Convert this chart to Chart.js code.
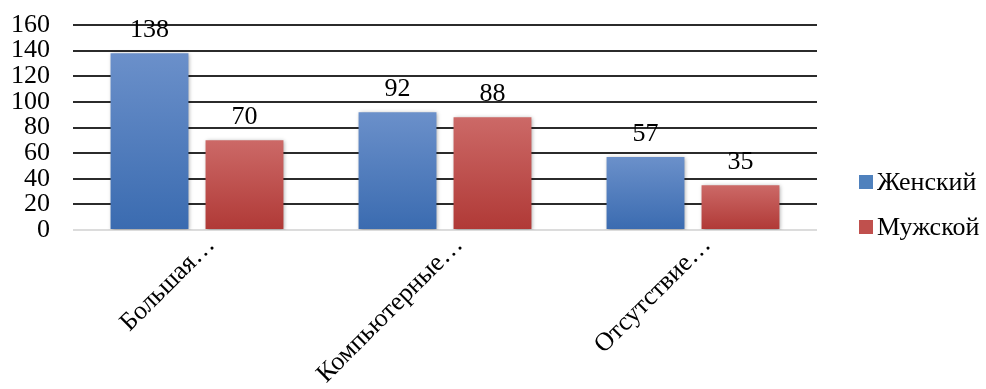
<!DOCTYPE html>
<html>
<head>
<meta charset="utf-8">
<script src="https://cdn.jsdelivr.net/npm/chart.js@4"></script>
<style>
  html, body { margin: 0; padding: 0; background: #fff; }
  #wrap { width: 986px; height: 389px; position: relative; }
</style>
</head>
<body>
<div id="wrap"><canvas id="chart"></canvas></div>
<script>
const categories = ['Большая…', 'Компьютерные…', 'Отсутствие…'];
const female = [138, 92, 57];
const male = [70, 88, 35];
const yTicks = [0, 20, 40, 60, 80, 100, 120, 140, 160];

const serif = '"Liberation Serif", "Times New Roman", serif';

// vertical gradient per bar, light at the top and darker at the base
function barFill(top, bottom, solid) {
  return function (c) {
    const chart = c.chart;
    if (!chart.chartArea || c.parsed === undefined) return solid;
    const y = chart.scales.y;
    const y0 = y.getPixelForValue(c.parsed.y);
    const y1 = y.getPixelForValue(0);
    const g = chart.ctx.createLinearGradient(0, y0, 0, y1);
    g.addColorStop(0, top);
    g.addColorStop(1, bottom);
    return g;
  };
}

// soft drop shadow under the bars
const barShadow = {
  id: 'barShadow',
  beforeDatasetsDraw(chart) {
    const ctx = chart.ctx;
    ctx.save();
    ctx.shadowColor = 'rgba(0,0,0,0.35)';
    ctx.shadowBlur = 4;
    ctx.shadowOffsetX = 1;
    ctx.shadowOffsetY = 1;
  },
  afterDatasetsDraw(chart) {
    chart.ctx.restore();
  }
};

// value labels above each bar
const valueLabels = {
  id: 'valueLabels',
  afterDatasetsDraw(chart) {
    const ctx = chart.ctx;
    ctx.save();
    ctx.font = '26px ' + serif;
    ctx.fillStyle = '#000';
    ctx.textAlign = 'center';
    ctx.textBaseline = 'alphabetic';
    chart.data.datasets.forEach((ds, i) => {
      chart.getDatasetMeta(i).data.forEach((bar, j) => {
        ctx.fillText(String(ds.data[j]), bar.x, bar.y - 16);
      });
    });
    ctx.restore();
  }
};

// legend on the right: small square, then the series name
const sideLegend = {
  id: 'sideLegend',
  afterDraw(chart) {
    const ctx = chart.ctx;
    const area = chart.chartArea;
    const x = area.right + 42;
    const mid = (area.top + area.bottom) / 2 + 77;
    ctx.save();
    ctx.font = '26px ' + serif;
    ctx.textBaseline = 'middle';
    chart.data.datasets.forEach((ds, i) => {
      const cy = mid + (i - 0.5) * 45;
      ctx.fillStyle = ds.legendColor;
      ctx.fillRect(x, cy - 7, 14, 14);
      ctx.fillStyle = '#000';
      ctx.fillText(ds.label, x + 18, cy + 1);
    });
    ctx.restore();
  }
};

new Chart(document.getElementById('chart'), {
  type: 'bar',
  data: {
    labels: categories,
    datasets: [{
      label: 'Женский',
      data: female,
      backgroundColor: barFill('#6b90ca', '#3a6bb0', '#4f81bd'),
      legendColor: '#4f81bd',
      categoryPercentage: 0.766,
      barPercentage: 0.82
    }, {
      label: 'Мужской',
      data: male,
      backgroundColor: barFill('#cc6967', '#b03936', '#c0504d'),
      legendColor: '#c0504d',
      categoryPercentage: 0.766,
      barPercentage: 0.82
    }]
  },
  options: {
    responsive: true,
    maintainAspectRatio: false,
    animation: false,
    layout: { padding: { top: 25, right: 169, left: 0, bottom: 0 } },
    scales: {
      x: {
        grid: { display: false },
        border: { display: false },
        ticks: {
          color: '#000',
          font: { family: serif, size: 26 },
          minRotation: 45,
          maxRotation: 45,
          labelOffset: 14,
          padding: -8
        },
        afterFit(scale) {
          scale.height = 159;
          scale.paddingLeft = 0;
          scale.paddingRight = 0;
        }
      },
      y: {
        min: 0,
        max: 160,
        afterBuildTicks(scale) { scale.ticks = yTicks.map(v => ({ value: v })); },
        border: { display: false },
        grid: {
          drawTicks: false,
          lineWidth: 2,
          color: c => c.tick.value === 0 ? '#dcdcdc' : '#2b2b2b'
        },
        ticks: {
          color: '#000',
          font: { family: serif, size: 26 },
          autoSkip: false,
          padding: 23
        },
        afterFit(scale) {
          scale.width = 73;
          scale.paddingTop = 0;
          scale.paddingBottom = 0;
        }
      }
    },
    plugins: {
      legend: { display: false },
      tooltip: { enabled: false }
    }
  },
  plugins: [barShadow, valueLabels, sideLegend]
});
</script>
</body>
</html>
